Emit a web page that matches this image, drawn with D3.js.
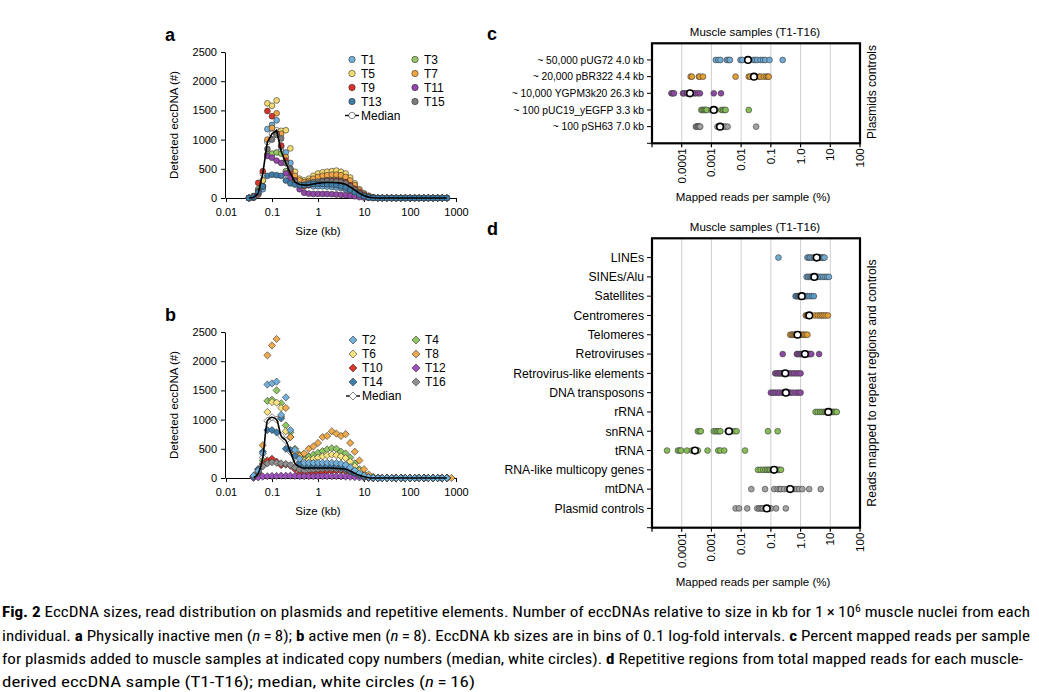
<!DOCTYPE html>
<html><head><meta charset="utf-8">
<script src="https://cdn.jsdelivr.net/npm/d3@7"></script>
<style>
body{margin:0;background:#fff}
svg text{font-family:"Liberation Sans",Arial,Helvetica,sans-serif;fill:#000}
</style>
</head><body>
<svg id="fig" width="1039" height="692"></svg>
<script>
// ---------- DATA ----------
const binsKb = [0.0316,0.0398,0.0501,0.0631,0.0794,0.1,0.126,0.158,0.2,0.251,0.316,0.398,0.501,0.631,0.794,1,1.26,1.58,2,2.51,3.16,3.98,5.01,6.31,7.94,10,12.6,15.8,20,25.1,31.6,39.8,50.1,63.1,79.4,100,126,158,200,251,316,398,501,631,794];
const sizeTicks = [0.01,0.1,1,10,100,1000];
const countTicks = [0,500,1000,1500,2000,2500];

// panel a: physically inactive men
const T1  = [0,10,60,150,1180,1250,1330,880,780,600,350,250,220,220,200,200,200,195,190,180,170,150,120,80,50,25,10,3,0,0,0,0,0,0,0,0,0,0,0,0,0,0,0,0,null];
const T3  = [0,10,150,300,750,760,780,760,460,440,330,260,240,260,290,320,330,340,345,340,330,300,250,180,110,60,25,8,0,0,0,0,0,0,0,0,0,0,0,0,0,0,0,0,null];
const T5  = [0,30,100,300,1620,1580,1670,1150,1160,850,450,330,300,330,380,420,440,450,460,470,450,420,350,250,150,80,40,15,0,0,0,0,0,0,0,0,0,0,0,0,0,0,0,0,null];
const T7  = [0,20,60,200,1000,1200,1450,1100,700,500,380,300,270,290,330,360,380,390,400,400,390,360,300,220,130,70,30,10,0,0,0,0,0,0,0,0,0,0,0,0,0,0,0,0,null];
const T9  = [0,30,260,460,1490,1400,1100,900,640,450,300,220,200,220,250,270,290,300,300,300,290,270,220,160,100,50,20,5,0,0,0,0,0,0,0,0,0,0,0,0,0,0,0,0,null];
const T11 = [0,10,80,200,720,690,640,600,420,350,250,150,90,75,70,70,70,70,65,60,55,50,40,30,15,8,3,0,0,0,0,0,0,0,0,0,0,0,0,0,0,0,0,0,null];
const T13 = [0,20,100,200,380,400,390,380,300,250,230,220,220,230,240,240,240,235,230,220,200,180,140,100,60,30,10,2,0,0,0,0,0,0,0,0,0,0,0,0,0,0,0,0,null];
const T15 = [0,15,120,200,840,1000,1080,1020,600,500,280,220,230,260,270,280,285,290,285,280,270,250,200,140,80,40,15,5,0,0,0,0,0,0,0,0,0,0,0,0,0,0,0,0,null];
const medianA = [0,10,80,420,960,1100,1160,800,600,420,270,230,220,225,240,255,262,265,265,262,255,235,190,135,80,40,15,5,0,0,0,0,0,0,0,0,0,0,0,0,0,0,0,0,null];

// panel b: active men
const T2  = [null,40,120,420,1600,1620,1650,1080,1380,820,480,330,260,260,260,260,260,260,260,255,245,225,185,130,80,40,15,5,0,0,0,0,0,0,0,0,0,0,0,0,0,0,0,0,null];
const T4  = [null,30,150,300,1320,1340,1500,1280,900,780,500,400,350,370,400,430,460,490,510,500,450,420,350,250,150,70,25,8,0,0,0,0,0,0,0,0,0,0,0,0,0,0,0,0,null];
const T6  = [null,20,100,250,1130,1300,1290,1200,800,700,450,350,300,310,330,350,370,390,400,390,370,340,280,200,120,60,20,5,0,0,0,0,0,0,0,0,0,0,0,0,0,0,0,0,null];
const T8  = [null,20,100,560,2100,2270,2380,1050,1200,700,420,380,420,500,540,600,700,720,800,760,720,750,600,450,300,150,60,20,5,0,0,0,0,0,0,0,0,0,0,0,0,0,0,0,0];
const T10 = [null,20,80,230,300,330,280,220,230,210,150,80,60,70,80,90,100,110,115,120,120,110,90,60,35,15,5,0,0,0,0,0,0,0,0,0,0,0,0,0,0,0,0,0,null];
const T12 = [null,5,10,25,30,35,35,40,40,40,35,30,30,30,30,30,30,30,30,30,28,25,20,15,10,5,2,0,0,0,0,0,0,0,0,0,0,0,0,0,0,0,0,0,null];
const T14 = [null,30,150,450,820,820,780,1020,500,480,380,260,200,200,200,200,200,200,195,190,180,160,130,90,55,25,10,2,0,0,0,0,0,0,0,0,0,0,0,0,0,0,0,0,null];
const T16 = [null,30,100,200,250,270,260,250,240,220,180,150,140,150,150,155,160,160,160,155,150,140,110,80,45,20,8,2,0,0,0,0,0,0,0,0,0,0,0,0,0,0,0,0,null];
const medianB = [null,5,80,350,980,1040,1000,720,640,450,250,190,170,170,170,170,170,170,170,165,160,150,120,80,45,20,5,0,0,0,0,0,0,0,0,0,0,0,0,0,0,0,0,0,null];

// panel c: plasmid spike-ins (% mapped reads)
const plasmidCats = ["~ 50,000 pUG72 4.0 kb","~ 20,000 pBR322 4.4 kb","~ 10,000 YGPM3k20 26.3 kb","~ 100 pUC19_yEGFP 3.3 kb","~ 100 pSH63 7.0 kb"];
const pUG72    = [0.0014,0.0017,0.002,0.0033,0.0038,0.0042,0.0095,0.011,0.026,0.03,0.035,0.045,0.055,0.065,0.09,0.25];
const pBR322   = [0.0002,0.00022,0.00038,0.0004,0.00052,0.0065,0.018,0.02,0.025,0.03,0.04,0.045,0.058,0.07,0.08,0.085];
const YGPM3k20 = [0.000045,0.00005,0.000055,0.00011,0.00012,0.00015,0.00016,0.00018,0.0002,0.00026,0.00029,0.00035,0.00041,0.0012,0.0021];
const pUC19    = [0.00046,0.0005,0.00055,0.0006,0.00065,0.0007,0.001,0.0011,0.0012,0.0013,0.0014,0.0022,0.0025,0.0028,0.003,0.018];
const pSH63    = [0.0003,0.00032,0.00034,0.00036,0.00038,0.0004,0.00042,0.0016,0.0018,0.002,0.0021,0.0023,0.0026,0.003,0.0035,0.032];
const plasmidMedians = [0.017,0.027,0.00019,0.0012,0.00195];

// panel d: repeat regions (% mapped reads)
const repeatCats = ["LINEs","SINEs/Alu","Satellites","Centromeres","Telomeres","Retroviruses","Retrovirus-like elements","DNA transposons","rRNA","snRNA","tRNA","RNA-like multicopy genes","mtDNA","Plasmid controls"];
const LINEs       = [0.18,1.7,1.9,2.1,2.4,2.8,3.0,3.3,3.6,3.9,4.2,4.6,5.0,5.5,6.0,6.4];
const SINEs       = [1.6,1.8,2.0,2.2,2.4,2.6,2.8,3.0,3.3,3.8,4.3,5.0,5.8,6.8,7.8,9.0];
const Satellites  = [0.68,0.72,0.8,0.85,0.9,0.95,1.0,1.05,1.1,1.2,1.35,1.5,1.7,2.0,2.4,2.8];
const Centromeres = [1.5,1.6,1.7,1.75,1.8,1.85,1.9,1.95,2.0,3.0,3.8,4.5,5.2,6.0,7.0,8.3];
const Telomeres   = [0.45,0.5,0.55,0.6,0.65,0.7,0.75,0.78,0.8,0.9,1.0,1.1,1.2,1.35,1.5,1.7];
const Retroviruses= [0.25,0.75,0.8,0.9,1.0,1.1,1.2,1.3,1.5,1.6,1.7,1.8,1.95,2.1,2.3,4.2];
const RetroLike   = [0.14,0.16,0.18,0.2,0.22,0.25,0.28,0.3,0.31,0.35,0.42,0.5,0.6,0.72,0.85,1.0];
const DNAtransp   = [0.1,0.12,0.14,0.17,0.2,0.25,0.28,0.3,0.33,0.36,0.4,0.45,0.55,0.7,0.85,1.0];
const rRNA        = [3.2,3.8,4.5,5.2,6.0,6.8,7.5,8.2,9.0,9.8,10.5,11.5,12.5,13.5,15,16.5];
const snRNA       = [0.00035,0.0004,0.00044,0.0012,0.0014,0.0016,0.0018,0.002,0.0035,0.0038,0.004,0.0042,0.0058,0.007,0.08,0.17];
const tRNA        = [0.000032,0.000075,0.000085,0.000095,0.00015,0.00022,0.00025,0.00027,0.00029,0.00031,0.00035,0.00074,0.0017,0.002,0.0027,0.0135];
const RNAlike     = [0.037,0.045,0.055,0.065,0.075,0.085,0.095,0.11,0.12,0.13,0.14,0.15,0.16,0.18,0.2,0.22];
const mtDNA       = [0.022,0.064,0.13,0.17,0.2,0.22,0.28,0.36,0.44,0.45,0.6,0.75,0.9,1.15,1.95,4.8];
const PlasmidCtrl = [0.0065,0.0085,0.016,0.035,0.04,0.045,0.05,0.055,0.065,0.07,0.075,0.08,0.09,0.1,0.15,0.32];
const repeatMedians = [3.5,2.9,1.1,1.97,0.79,1.4,0.305,0.32,8.6,0.0039,0.00028,0.128,0.447,0.073];
const pctTicks = [0.0001,0.001,0.01,0.1,1,10,100];
const pctLabels = ["0.0001","0.001","0.01","0.1","1.0","10","100"];

// ---------- COLOURS ----------
const C = {lblue:"#72b1db", green:"#95c767", yellow:"#f5dc72", orange:"#f0a545", red:"#d8342c",
           purple:"#9447aa", steel:"#3f7eab", grey:"#7b7b7b", lgrey:"#8f8f8f"};

const svg = d3.select("#fig");
svg.append("rect").attr("width",1039).attr("height",692).attr("fill","#fff");

// ---------- PANELS a & b ----------
const xS = d3.scaleLog().domain([0.01,1000]).range([226,456]);

function sizePanel(cfg){
  const y = d3.scaleLinear().domain([0,2500]).range([cfg.y0,cfg.y0-146]);
  const g = svg.append("g");
  const ax = g.append("g").attr("transform",`translate(225,0)`)
    .call(d3.axisLeft(y).tickValues(countTicks).tickFormat(d3.format("d")).tickSize(4).tickSizeOuter(0).tickPadding(4));
  const bx = g.append("g").attr("transform",`translate(0,${cfg.y0})`)
    .call(d3.axisBottom(xS).tickValues(sizeTicks).tickFormat(d=>String(d)).tickSize(4).tickSizeOuter(0).tickPadding(6));
  [ax,bx].forEach(a=>{a.selectAll("text").attr("font-size",11).style("font-family",'"Liberation Sans",Arial,sans-serif');
    a.selectAll("path,line").attr("stroke","#000");});
  g.append("text").attr("x",318).attr("y",cfg.y0+37).attr("text-anchor","middle").attr("font-size",11.5).text("Size (kb)");
  g.append("text").attr("transform",`translate(178,${cfg.y0-73}) rotate(-90)`).attr("text-anchor","middle")
    .attr("font-size",11.5).text("Detected eccDNA (#)");
  g.append("text").attr("x",165).attr("y",cfg.y0-157).attr("font-size",18).attr("font-weight","bold").text(cfg.letter);

  const shape = cfg.diamond
    ? (gg,r)=>gg.append("path").attr("d",`M0,${-r}L${r},0L0,${r}L${-r},0Z`)
    : (gg,r)=>gg.append("circle").attr("r",r);
  const mark = (parent,cx,cy,col,r)=>{
    const gg = parent.append("g").attr("transform",`translate(${cx},${cy})`);
    shape(gg,r).attr("fill",col).attr("stroke","#333").attr("stroke-width",0.6);
  };
  const R = cfg.diamond?3.6:2.9;
  const pts = g.append("g");
  cfg.median.forEach((v,i)=>{ if(v!==null) mark(pts,xS(binsKb[i]),y(v),"#fff",R); });
  cfg.series.forEach(s=>{
    s.values.forEach((v,i)=>{ if(v!==null) mark(pts,xS(binsKb[i]),y(v),s.color,R); });
  });
  const line = d3.line().defined(d=>d.v!==null).x(d=>xS(d.k)).y(d=>y(d.v)).curve(cfg.curve);
  g.append("path").datum(cfg.median.map((v,i)=>({k:binsKb[i],v})))
    .attr("d",line).attr("fill","none").attr("stroke","#000").attr("stroke-width",1.6);

  // legend
  const lg = g.append("g");
  cfg.legend.forEach((s,j)=>{
    const col = j%2, row = Math.floor(j/2);
    const lx = col===0?cfg.lx:cfg.lx+63, ly = cfg.ly+row*14;
    mark(lg,lx,ly,s.color,cfg.diamond?4:3.2);
    lg.append("text").attr("x",lx+9).attr("y",ly+4.2).attr("font-size",12).text(s.name);
  });
  const my = cfg.ly+4*14;
  lg.append("line").attr("x1",cfg.lx-7).attr("x2",cfg.lx+7).attr("y1",my).attr("y2",my).attr("stroke","#000").attr("stroke-width",1.4);
  mark(lg,cfg.lx,my,"#fff",cfg.diamond?4:3.2);
  lg.append("text").attr("x",cfg.lx+9).attr("y",my+4.2).attr("font-size",12).text("Median");
}

const seriesA = [
  {name:"T1",color:C.lblue,values:T1},{name:"T3",color:C.green,values:T3},
  {name:"T5",color:C.yellow,values:T5},{name:"T7",color:C.orange,values:T7},
  {name:"T9",color:C.red,values:T9},{name:"T11",color:C.purple,values:T11},
  {name:"T13",color:C.steel,values:T13},{name:"T15",color:C.grey,values:T15}];
const seriesB = [
  {name:"T2",color:C.lblue,values:T2},{name:"T4",color:"#8fc862",values:T4},
  {name:"T6",color:"#f8e47e",values:T6},{name:"T8",color:"#eeaa4c",values:T8},
  {name:"T10",color:C.red,values:T10},{name:"T12",color:"#a24fc2",values:T12},
  {name:"T14",color:C.steel,values:T14},{name:"T16",color:C.lgrey,values:T16}];
const orderA = [0,1,2,3,4,5,7,6].map(i=>seriesA[i]);
const orderB = [1,2,3,4,5,7,6,0].map(i=>seriesB[i]);

sizePanel({y0:198,letter:"a",series:orderA,legend:seriesA,median:medianA,diamond:false,
  curve:d3.curveLinear,lx:352,ly:59.5});
sizePanel({y0:478,letter:"b",series:orderB,legend:seriesB,median:medianB,diamond:true,
  curve:d3.curveMonotoneX,lx:353,ly:340});

// ---------- PANELS c & d ----------
const xP = d3.scaleLog().domain([1e-5,100]).range([652,860]);

function dotPanel(cfg){
  const g = svg.append("g");
  const yP = d3.scalePoint().domain(cfg.cats).range([cfg.top,cfg.bottom]).padding(1);
  g.selectAll(".grid").data(pctTicks.slice(0,-1)).join("line")
    .attr("x1",d=>xP(d)).attr("x2",d=>xP(d)).attr("y1",cfg.top).attr("y2",cfg.bottom)
    .attr("stroke","#cfcfcf").attr("stroke-width",1);
  cfg.cats.forEach((c,k)=>{
    cfg.values[k].forEach(v=>{
      g.append("circle").attr("cx",xP(v)).attr("cy",yP(c)).attr("r",2.9)
        .attr("fill",cfg.colors[k]).attr("stroke","#3a3a3a").attr("stroke-width",0.6);
    });
    g.append("circle").attr("cx",xP(cfg.medians[k])).attr("cy",yP(c)).attr("r",3.3)
      .attr("fill","#fff").attr("stroke","#000").attr("stroke-width",1.6);
    g.append("line").attr("x1",647).attr("x2",652).attr("y1",yP(c)).attr("y2",yP(c)).attr("stroke","#000").attr("stroke-width",1);
    g.append("text").attr("x",644).attr("y",yP(c)).attr("dy","0.35em").attr("text-anchor","end")
      .attr("font-size",cfg.catSize).text(c);
  });
  g.append("line").attr("x1",647).attr("x2",652).attr("y1",cfg.bottom).attr("y2",cfg.bottom).attr("stroke","#000");
  g.append("rect").attr("x",652).attr("y",cfg.top).attr("width",208).attr("height",cfg.bottom-cfg.top)
    .attr("fill","none").attr("stroke","#000").attr("stroke-width",2.2);
  [1e-5,...pctTicks].forEach(t=>{
    g.append("line").attr("x1",xP(t)).attr("x2",xP(t)).attr("y1",cfg.bottom).attr("y2",cfg.bottom+4)
      .attr("stroke","#000").attr("stroke-width",1.2);
  });
  pctTicks.forEach((t,i)=>{
    g.append("text").attr("transform",`translate(${xP(t)},${cfg.bottom+5}) rotate(-90)`)
      .attr("text-anchor","end").attr("dy","0.35em").attr("font-size",11.5).text(pctLabels[i]);
  });
  g.append("text").attr("x",755).attr("y",cfg.top-7).attr("text-anchor","middle").attr("font-size",11.5).text("Muscle samples (T1-T16)");
  g.append("text").attr("x",753).attr("y",cfg.bottom+58).attr("text-anchor","middle").attr("font-size",11.5).text("Mapped reads per sample (%)");
  g.append("text").attr("transform",`translate(876,${cfg.rightY}) rotate(-90)`).attr("text-anchor","middle")
    .attr("font-size",cfg.rightSize).text(cfg.right);
  g.append("text").attr("x",487).attr("y",cfg.top-3).attr("font-size",18).attr("font-weight","bold").text(cfg.letter);
}

dotPanel({cats:plasmidCats,values:[pUG72,pBR322,YGPM3k20,pUC19,pSH63],medians:plasmidMedians,
  colors:["#6faad3","#e39f34","#8c4a9e","#86bf57","#a3a3a3"],catSize:10.3,
  top:43.3,bottom:143.3,letter:"c",right:"Plasmids controls",rightY:92,rightSize:12});
dotPanel({cats:repeatCats,
  values:[LINEs,SINEs,Satellites,Centromeres,Telomeres,Retroviruses,RetroLike,DNAtransp,rRNA,snRNA,tRNA,RNAlike,mtDNA,PlasmidCtrl],
  medians:repeatMedians,catSize:12.2,
  colors:["#6faad3","#6faad3","#5b9bc7","#e39f34","#e39f34","#8c4a9e","#8c4a9e","#8c4a9e","#86bf57","#86bf57","#86bf57","#86bf57","#a3a3a3","#a3a3a3"],
  top:238.3,bottom:527.7,letter:"d",right:"Reads mapped to repeat regions and controls",rightY:383,rightSize:12.2});

// ---------- CAPTION ----------
const capLines = [
  {y:617,len:1028,parts:[["Fig. 2","b"],[" EccDNA sizes, read distribution on plasmids and repetitive elements. Number of eccDNAs relative to size in kb for 1\u2009\u00d7\u200910",""],["6","sup"],[" muscle nuclei from each","down"]]},
  {y:641,len:1028,parts:[["individual. ",""],["a","b"],[" Physically inactive men (",""],["n","i"],["\u2009=\u20098); ",""],["b","b"],[" active men (",""],["n","i"],["\u2009=\u20098). EccDNA kb sizes are in bins of 0.1 log-fold intervals. ",""],["c","b"],[" Percent mapped reads per sample",""]]},
  {y:664,len:1021,parts:[["for plasmids added to muscle samples at indicated copy numbers (median, white circles). ",""],["d","b"],[" Repetitive regions from total mapped reads for each muscle-",""]]},
  {y:687,len:473,parts:[["derived eccDNA sample (T1-T16); median, white circles (",""],["n","i"],["\u2009=\u200916)",""]]}
];
capLines.forEach(L=>{
  const t = svg.append("text").attr("x",2).attr("y",L.y).attr("font-size",14.5)
    .style("font-family",'"Liberation Sans Narrow","Roboto Condensed","Liberation Sans",sans-serif')
    .attr("textLength",L.len).attr("lengthAdjust","spacingAndGlyphs");
  L.parts.forEach(([s,st])=>{
    const sp = t.append("tspan").text(s);
    if(st==="b") sp.attr("font-weight","bold");
    if(st==="i") sp.attr("font-style","italic");
    if(st==="sup") sp.attr("font-size",10).attr("dy",-5);
    if(st==="down") sp.attr("dy",5);
  });
});
</script>
</body></html>
